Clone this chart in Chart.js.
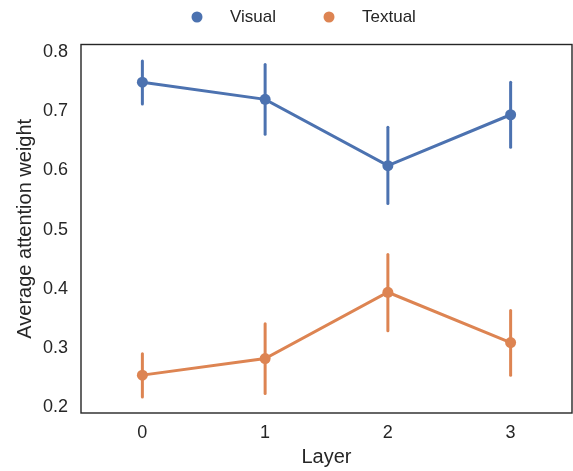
<!DOCTYPE html>
<html>
<head>
<meta charset="utf-8">
<script src="https://cdn.jsdelivr.net/npm/chart.js@4.4.1/dist/chart.umd.min.js"></script>
<style>
  html, body { margin: 0; padding: 0; background: #fff; }
  #wrap { width: 573px; height: 471px; }
</style>
</head>
<body>
<div id="wrap"><canvas id="chart"></canvas></div>
<script>
const layers = ["0", "1", "2", "3"];
const yTicks = [0.2, 0.3, 0.4, 0.5, 0.6, 0.7, 0.8];

const visualMean = [0.749, 0.720, 0.608, 0.694];
const visualLow = [0.712, 0.661, 0.544, 0.639];
const visualHigh = [0.785, 0.779, 0.673, 0.749];

const textualMean = [0.254, 0.282, 0.394, 0.309];
const textualLow = [0.217, 0.223, 0.329, 0.254];
const textualHigh = [0.290, 0.341, 0.458, 0.363];

const blue = "#4C72B0",
    orange = "#DD8452",
    ink = "#262626";

Chart.defaults.font.family = "'Liberation Sans', Arial, sans-serif";
Chart.defaults.font.size = 18;
Chart.defaults.color = ink;

// vertical error bars, drawn under the markers
const errorBars = {
    id: "errorBars",
    beforeDatasetsDraw(chart) {
        const ctx = chart.ctx;
        const x = chart.scales.x, y = chart.scales.y;
        chart.data.datasets.forEach((ds) => {
            ctx.save();
            ctx.strokeStyle = ds.borderColor;
            ctx.lineWidth = 3;
            ctx.lineCap = "round";
            ds.data.forEach((_, i) => {
                const px = x.getPixelForValue(i);
                ctx.beginPath();
                ctx.moveTo(px, y.getPixelForValue(ds.low[i]));
                ctx.lineTo(px, y.getPixelForValue(ds.high[i]));
                ctx.stroke();
            });
            ctx.restore();
        });
    }
};

// box around the plot area
const frame = {
    id: "frame",
    afterDraw(chart) {
        const { ctx, chartArea: a } = chart;
        ctx.save();
        ctx.strokeStyle = ink;
        ctx.lineWidth = 1.4;
        ctx.strokeRect(a.left, a.top, a.right - a.left, a.bottom - a.top);
        ctx.restore();
    }
};

// legend drawn by hand to get matplotlib-like spacing
const topLegend = {
    id: "topLegend",
    afterDraw(chart) {
        const ctx = chart.ctx;
        const spots = [197, 329];
        ctx.save();
        ctx.font = "17px 'Liberation Sans', Arial, sans-serif";
        ctx.textBaseline = "middle";
        chart.data.datasets.forEach((ds, i) => {
            ctx.fillStyle = ds.borderColor;
            ctx.beginPath();
            ctx.arc(spots[i], 17, 5.5, 0, Math.PI * 2);
            ctx.fill();
            ctx.fillStyle = ink;
            ctx.fillText(ds.label, spots[i] + 33, 17);
        });
        ctx.restore();
    }
};

function series(label, color, mean, low, high) {
    return {
        label: label,
        data: mean,
        low: low,
        high: high,
        borderColor: color,
        backgroundColor: color,
        borderWidth: 3,
        pointRadius: 5.5,
        pointHoverRadius: 5.5,
        pointBorderWidth: 0,
        tension: 0,
    };
}

new Chart(document.getElementById("chart"), {
    type: "line",
    data: {
        labels: layers,
        datasets: [
            series("Visual", blue, visualMean, visualLow, visualHigh),
            series("Textual", orange, textualMean, textualLow, textualHigh),
        ],
    },
    plugins: [errorBars, frame, topLegend],
    options: {
        responsive: true,
        maintainAspectRatio: false,
        animation: false,
        layout: { autoPadding: false, padding: { top: 44.5, right: 1, left: 0, bottom: 0 } },
        plugins: {
            legend: { display: false },
            tooltip: { enabled: false },
        },
        scales: {
            x: {
                type: "category",
                offset: true,
                grid: { display: false, drawTicks: false },
                border: { display: false },
                ticks: { padding: 9 },
                title: { display: true, text: "Layer", font: { size: 20 }, padding: { top: 0, bottom: 2 } },
                afterFit: (s) => { s.height = 58; },
            },
            y: {
                min: 0.19,
                max: 0.8127,
                grid: { display: false, drawTicks: false },
                border: { display: false },
                ticks: { padding: 13, callback: (v) => v.toFixed(1) },
                afterBuildTicks: (s) => { s.ticks = yTicks.map((v) => ({ value: v })); },
                title: { display: true, text: "Average attention weight", font: { size: 20 }, padding: { top: 13, bottom: 0 } },
                afterFit: (s) => { s.width = 81; },
            },
        },
    },
});
</script>
</body>
</html>
